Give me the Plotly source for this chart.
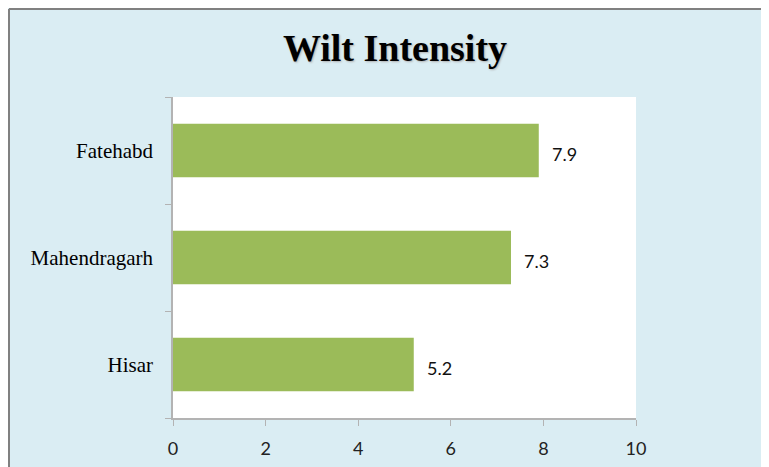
import plotly.graph_objects as go

categories = ["Hisar", "Mahendragarh", "Fatehabd"]
values = [5.2, 7.3, 7.9]
x_ticks = [0, 2, 4, 6, 8, 10]
title_text = "Wilt Intensity"

BG = "#DAEDF3"
BAR = "#9BBB59"
AX = "#B3B3B3"

W, H = 761, 459
ML, MT, PW, PH = 165, 89, 463, 321

fig = go.Figure()
fig.add_trace(go.Bar(
    x=values, y=categories, orientation="h",
    marker=dict(color=BAR, line=dict(width=0)),
    width=0.5,
    hoverinfo="skip",
))

for c, v in zip(categories, values):
    fig.add_annotation(x=v, y=c, xref="x", yref="y", text=f"{v}",
                       showarrow=False, xanchor="left", xshift=11, yshift=-3,
                       font=dict(family="Lato, Open Sans, sans-serif", size=18, color="#111"))

# chart-area border (top and left edges)
top_y = 1 + (MT - 1) / PH
left_x = (-ML + 1) / PW
fig.add_shape(type="line", xref="paper", yref="paper",
              x0=left_x, x1=2, y0=top_y, y1=top_y,
              line=dict(color="#808080", width=2))
fig.add_shape(type="line", xref="paper", yref="paper",
              x0=left_x, x1=left_x, y0=-1, y1=top_y,
              line=dict(color="#808080", width=2))

fig.update_layout(
    width=W, height=H,
    margin=dict(l=ML, r=W - ML - PW, t=MT, b=H - MT - PH, autoexpand=False),
    paper_bgcolor=BG,
    plot_bgcolor="white",
    showlegend=False,
    title=dict(text=f"<b>{title_text}</b>", x=387 / W, xanchor="center", y=1 - 40 / H, yanchor="middle",
               font=dict(family="Liberation Serif, Times New Roman, serif", size=38, color="#000",
                         shadow="1px 1px 2px #b0b0b0")),
    xaxis=dict(range=[0, 10], tickvals=x_ticks, ticktext=[str(t) for t in x_ticks],
               showgrid=False, zeroline=False, showline=True, linecolor=AX, linewidth=1.5,
               ticks="outside", ticklen=6, tickcolor=AX, tickwidth=1,
               ticklabelstandoff=8,
               tickfont=dict(family="Lato, Open Sans, sans-serif", size=18, color="#222"),
               fixedrange=True, automargin=False),
    yaxis=dict(categoryorder="array", categoryarray=categories,
               showgrid=False, zeroline=False, showline=True, linecolor=AX, linewidth=1.5,
               ticks="outside", ticklen=6, tickcolor=AX, tickwidth=1, tickson="boundaries",
               ticklabelstandoff=14,
               tickfont=dict(family="Liberation Serif, Times New Roman, serif", size=21, color="#000"),
               fixedrange=True, automargin=False),
)

fig.write_html("out.html")
